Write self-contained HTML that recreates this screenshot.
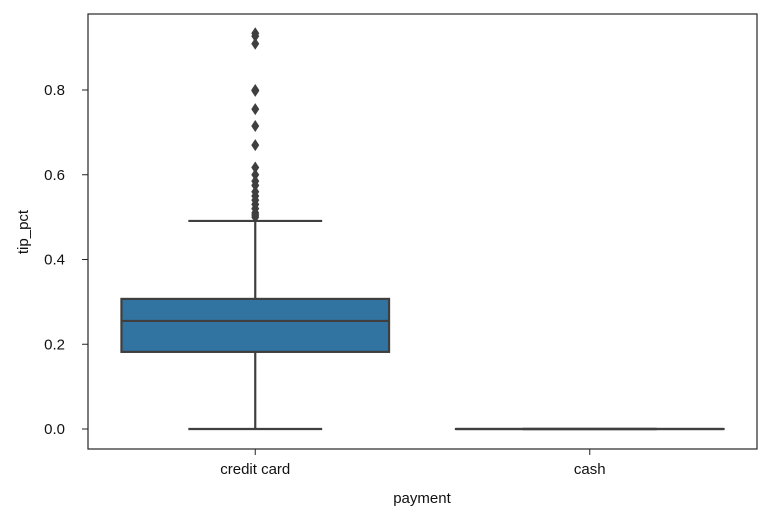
<!DOCTYPE html>
<html><head><meta charset="utf-8"><style>
body{margin:0;background:#fff;}
svg{display:block;font-family:"Liberation Sans","DejaVu Sans",sans-serif;}
</style></head><body>
<svg id="chart" width="772" height="523">
<rect x="88" y="14" width="669" height="435" fill="#fff" stroke="#262626" stroke-width="1.2"/>
<g id="marks"></g>
<g id="axes"></g>
<text x="422" y="503" text-anchor="middle" font-size="15" fill="#111">payment</text>
<text x="28" y="232" text-anchor="middle" font-size="15" fill="#111" transform="rotate(-90 28 232)">tip_pct</text>
</svg>
<script>
const categories=["credit card","cash"];
const q1s=[0.182,0];
const medians=[0.255,0];
const q3s=[0.307,0];
const whiskerLows=[0,0];
const whiskerHighs=[0.491,0];
const outliers=[[0.934,0.927,0.909,0.80,0.798,0.755,0.715,0.670,0.617,0.60,0.585,0.575,0.56,0.55,0.54,0.53,0.52,0.51,0.505,0.50],[]];
const yTicks=[0,0.2,0.4,0.6,0.8];
const y=v=>429-v*423.75;
const bandW=669/categories.length;
const xc=i=>88+bandW*(i+0.5);
const ns="http://www.w3.org/2000/svg";
const marks=document.getElementById('marks'),axes=document.getElementById('axes');
function mk(tag,attrs,parent){const e=document.createElementNS(ns,tag);for(const k in attrs)e.setAttribute(k,attrs[k]);parent.appendChild(e);return e;}
const ec="#3f3f3f",boxW=bandW*0.8;
categories.forEach((c,i)=>{
  const cx=xc(i);
  const g=mk('g',{},marks);
  
  
  mk('line',{x1:cx,x2:cx,y1:y(q3s[i]),y2:y(whiskerHighs[i]),stroke:ec,'stroke-width':2.2},g);
  mk('line',{x1:cx,x2:cx,y1:y(q1s[i]),y2:y(whiskerLows[i]),stroke:ec,'stroke-width':2.2},g);
  mk('line',{x1:cx-boxW/4,x2:cx+boxW/4,y1:y(whiskerHighs[i]),y2:y(whiskerHighs[i]),stroke:ec,'stroke-width':2.2},g);
  mk('line',{x1:cx-boxW/4,x2:cx+boxW/4,y1:y(whiskerLows[i]),y2:y(whiskerLows[i]),stroke:ec,'stroke-width':2.2},g);
  const h=Math.max(y(q1s[i])-y(q3s[i]),0.01);
  mk('rect',{x:cx-boxW/2,y:y(q3s[i]),width:boxW,height:h,fill:"#3274a1",stroke:ec,'stroke-width':2.2},g);
  mk('line',{x1:cx-boxW/2,x2:cx+boxW/2,y1:y(medians[i]),y2:y(medians[i]),stroke:ec,'stroke-width':2.2},g);
  outliers[i].forEach(v=>{
    const py=y(v);
    const p=mk('path',{d:`M${cx} ${py-6} L${cx+4} ${py} L${cx} ${py+6} L${cx-4} ${py} Z`,fill:ec},g);
    
    
  });
  mk('line',{x1:cx,x2:cx,y1:449,y2:455,stroke:'#222','stroke-width':1},axes);
  const t=mk('text',{x:cx,y:474,'text-anchor':'middle','font-size':15,fill:'#111'},axes);
  t.textContent=c;
  
  
});
yTicks.forEach(v=>{
  mk('line',{x1:82,x2:88,y1:y(v),y2:y(v),stroke:'#222','stroke-width':1},axes);
  const t=mk('text',{x:65,y:y(v)+5,'text-anchor':'end','font-size':15,fill:'#111'},axes);
  t.textContent=v.toFixed(1);
  
  
});
</script>
</body></html>
